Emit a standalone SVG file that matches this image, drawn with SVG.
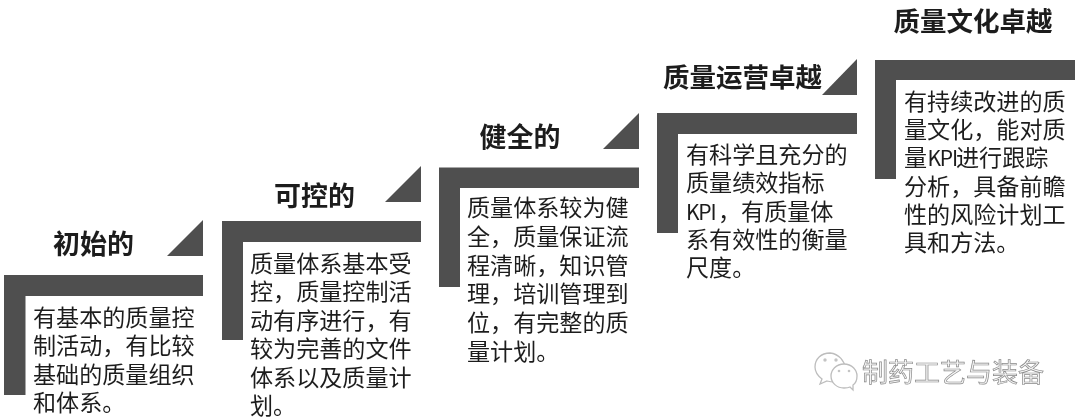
<svg xmlns="http://www.w3.org/2000/svg" width="1080" height="418" viewBox="0 0 1080 418">
<defs>
<style>
.shape{fill:#4f4f4f}
text{font-family:"Noto Sans CJK SC","Noto Sans",sans-serif}
.title{font-size:27px;font-weight:700;fill:#1c1c1c}
.long{font-size:26.5px}
.body{font-size:23.1px;fill:#1e1e1e}
.kpi{font-size:21px;letter-spacing:-1.2px}
.mark{font-size:26px;fill:#f4f4f4;stroke:#8a8a8a;stroke-width:.7px}
.bubble{fill:#fff;stroke:#bdbdbd;stroke-width:1.3}
.eye{fill:#c4c4c4}
</style>
<filter id="soft" x="-5%" y="-5%" width="110%" height="110%"><feGaussianBlur stdDeviation="0.4"/></filter>
</defs>
<rect width="1080" height="418" fill="#fff"/>
<g filter="url(#soft)">
<g id="stage-1">
<path class="shape" d="M4 275H203V296H25.500V395H4Z"/>
<path class="shape" d="M203 220V256H167Z"/>
<text class="title" x="53" y="254">初始的</text>
<text class="body"><tspan x="33" y="326">有基本的质量控</tspan><tspan x="33" y="354.300">制活动，有比较</tspan><tspan x="33" y="382.600">基础的质量组织</tspan><tspan x="33" y="411">和体系。</tspan></text>
</g>
<g id="stage-2">
<path class="shape" d="M222 221H421V242H243V340H222Z"/>
<path class="shape" d="M421 166V202H385Z"/>
<text class="title" x="274" y="206">可控的</text>
<text class="body"><tspan x="250" y="272">质量体系基本受</tspan><tspan x="250" y="300.400">控，质量控制活</tspan><tspan x="250" y="328.800">动有序进行，有</tspan><tspan x="250" y="357.200">较为完善的文件</tspan><tspan x="250" y="385.600">体系以及质量计</tspan><tspan x="250" y="414">划。</tspan></text>
</g>
<g id="stage-3">
<path class="shape" d="M439 167.500H639V188H460V287H439Z"/>
<path class="shape" d="M639 113V149H603Z"/>
<text class="title" x="479.500" y="147">健全的</text>
<text class="body"><tspan x="467" y="216">质量体系较为健</tspan><tspan x="467" y="244.800">全，质量保证流</tspan><tspan x="467" y="273.600">程清晰，知识管</tspan><tspan x="467" y="302.400">理，培训管理到</tspan><tspan x="467" y="331.200">位，有完整的质</tspan><tspan x="467" y="360">量计划。</tspan></text>
</g>
<g id="stage-4">
<path class="shape" d="M657 113H857V134H678V233H657Z"/>
<path class="shape" d="M857 59V95H822Z"/>
<text class="title long" x="663" y="87">质量运营卓越</text>
<text class="body"><tspan x="686" y="163">有科学且充分的</tspan><tspan x="686" y="191.300">质量绩效指标</tspan><tspan x="686" y="219.600" class="kpi">KPI</tspan><tspan x="718" y="219.600">，有质量体</tspan><tspan x="686" y="247.900">系有效性的衡量</tspan><tspan x="686" y="276.200">尺度。</tspan></text>
</g>
<g id="stage-5">
<path class="shape" d="M875 60H1075V80H896V179H875Z"/>
<text class="title long" x="893.500" y="31">质量文化卓越</text>
<text class="body"><tspan x="904" y="110">有持续改进的质</tspan><tspan x="904" y="138.200">量文化，能对质</tspan><tspan x="904" y="166.400">量</tspan><tspan class="kpi" x="927.500" y="166.400">KPI</tspan><tspan x="956" y="166.400">进行跟踪</tspan><tspan x="904" y="194.600">分析，具备前瞻</tspan><tspan x="904" y="222.800">性的风险计划工</tspan><tspan x="904" y="251">具和方法。</tspan></text>
</g>
<g id="watermark">
<path class="bubble" d="M830 353C821 353 815 359 815 367C815 372 818 376 822 379L820 384L827 381C830 382 833 382 836 382C850 382 849 355 830 353Z"/>
<circle class="eye" cx="825" cy="360" r="1.700"/><circle class="eye" cx="836" cy="360" r="1.700"/>
<path class="bubble" d="M844 364C836 364 831 370 831 376C831 383 837 388 844 388C846 388 848 388 850 387L853 390L853 385C856 383 857 380 857 376C857 370 852 364 844 364Z"/>
<circle class="eye" cx="839" cy="371" r="1.300"/><circle class="eye" cx="849" cy="371" r="1.300"/>
<text class="mark" x="862" y="382">制药工艺与装备</text>
</g>
</g>
</svg>
